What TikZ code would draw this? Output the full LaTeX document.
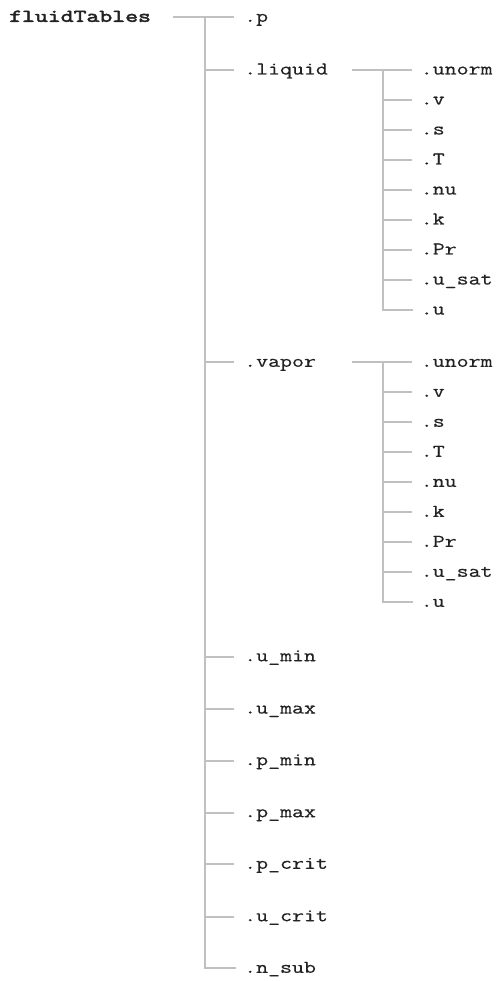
\documentclass[tikz,border=0pt]{standalone}
\usepackage{fontspec}
\newfontfamily\treefont{Latin Modern Mono}[FakeStretch=1.29,FakeBold=0.5]
\newfontfamily\rootfont{Latin Modern Mono}[FakeStretch=1.39,FakeBold=3]
\definecolor{linegray}{HTML}{C0C0C0}
\definecolor{textgray}{HTML}{222222}
\begin{document}
\begin{tikzpicture}[x=1pt,y=-1pt,
  conn/.style={draw=linegray, line width=2pt},
  leaf/.style={anchor=west, inner sep=0pt, text height=12.6pt, text depth=3.6pt, text=textgray, font=\treefont\fontsize{18}{18}\selectfont},
  rootlbl/.style={anchor=west, inner sep=0pt, text height=12.6pt, text depth=3.6pt, text=textgray, font=\rootfont\fontsize{18}{18}\selectfont}]
\useasboundingbox (0,0) rectangle (503,981);
\node[rootlbl] (root) at (9,17.3) {fluidTables};
\foreach \n/\t/\y in {p/.p/17.3, liquid/.liquid/70, vapor/.vapor/362.3, umin/.u\_min/656.7, umax/.u\_max/709, pmin/.p\_min/760.7, pmax/.p\_max/812.7, pcrit/.p\_crit/864.3, ucrit/.u\_crit/916.7, nsub/.n\_sub/968.3}
  \node[leaf] (\n) at (244,\y) {\t};
\foreach \i/\t in {1/.unorm, 2/.v, 3/.s, 4/.T, 5/.nu, 6/.k, 7/.Pr, 8/.u\_sat, 9/.u}{
  \node[leaf] (l\i) at (420.6,{70+30*(\i-1)}) {\t};
  \node[leaf] (v\i) at (420.6,{362.3+30*(\i-1)}) {\t};
}
% main trunk
\draw[conn] ([xshift=22pt]root.east) -- ([xshift=-10pt]p.west);
\draw[conn] ([xshift=-39pt]p.west) |- ([xshift=-8pt]nsub.west);
\foreach \n in {liquid,vapor,umin,umax,pmin,pmax,pcrit,ucrit}
  \draw[conn] ([xshift=-39pt]\n.west) -- ([xshift=-10pt]\n.west);
% sub trees
\foreach \s in {l,v}{
  \draw[conn] ([xshift=-68.6pt]\s1.west) -- ([xshift=-8.6pt]\s1.west);
  \draw[conn] ([xshift=-38pt]\s1.west) |- ([xshift=-7.6pt]\s9.west);
  \foreach \i in {2,...,8}
    \draw[conn] ([xshift=-38pt]\s\i.west) -- ([xshift=-8.6pt]\s\i.west);
}
\end{tikzpicture}
\end{document}
